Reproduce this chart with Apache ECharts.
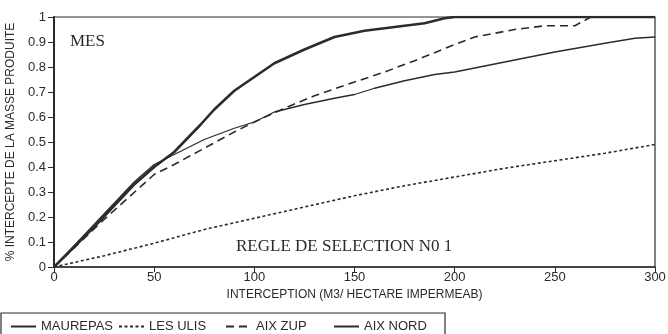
<!DOCTYPE html>
<html lang="fr">
<head>
    <meta charset="UTF-8">
    <title>MES - regle de selection N0 1</title>
    <style>
        html, body { margin: 0; padding: 0; background: #fff; }
        #main { width: 668px; height: 334px; }
    </style>
</head>
<body>
    <div id="main"></div>
    <script src="https://cdn.jsdelivr.net/npm/echarts@6/dist/echarts.min.js"></script>
    <script>
        // valeurs
        var maurepasX = [0, 20, 40, 50, 60, 75, 90, 100, 110, 125, 140, 150, 160, 175, 190, 200, 225, 250, 275, 290, 300];
        var maurepasY = [0, 0.17, 0.34, 0.41, 0.45, 0.51, 0.555, 0.58, 0.62, 0.65, 0.675, 0.69, 0.715, 0.745, 0.77, 0.78, 0.82, 0.86, 0.895, 0.915, 0.92];

        var lesUlisX = [0, 25, 50, 75, 100, 125, 150, 175, 200, 225, 250, 275, 300];
        var lesUlisY = [0, 0.045, 0.095, 0.15, 0.195, 0.24, 0.285, 0.325, 0.36, 0.395, 0.425, 0.455, 0.49];

        var aixZupX = [0, 25, 50, 60, 75, 90, 100, 115, 130, 150, 165, 180, 200, 210, 230, 245, 260, 268, 300];
        var aixZupY = [0, 0.19, 0.37, 0.41, 0.475, 0.54, 0.58, 0.635, 0.685, 0.74, 0.78, 0.825, 0.89, 0.92, 0.95, 0.965, 0.965, 1.0, 1.0];

        var aixNordX = [0, 20, 40, 50, 60, 73, 80, 90, 100, 110, 125, 140, 155, 170, 185, 195, 200, 300];
        var aixNordY = [0, 0.16, 0.33, 0.40, 0.46, 0.568, 0.63, 0.705, 0.76, 0.815, 0.87, 0.92, 0.945, 0.96, 0.975, 0.995, 1.0, 1.0];

        var names = ['MAUREPAS', 'LES ULIS', 'AIX ZUP', 'AIX NORD'];

        function pairs(xs, ys) {
            return xs.map(function (x, i) { return [x, ys[i]]; });
        }

        var ink = '#2b2b2b';
        var sans = '"Liberation Sans", Arial, sans-serif';
        var serif = '"Liberation Serif", "Times New Roman", serif';

        function line(name, xs, ys, width, type) {
            return {
                name: name,
                type: 'line',
                data: pairs(xs, ys),
                showSymbol: false,
                symbol: 'none',
                silent: true,
                animation: false,
                lineStyle: { color: ink, width: width, type: type },
                itemStyle: { color: ink }
            };
        }

        // une legende par entree pour garder les ecarts du modele
        function legendAt(name, left) {
            return {
                data: [name],
                left: left,
                top: 315,
                itemWidth: 25,
                itemHeight: 14,
                itemGap: 0,
                itemStyle: { opacity: 0 },   // pas de rond, juste le trait
                textStyle: { color: ink, fontSize: 13, fontFamily: sans },
                selectedMode: false
            };
        }

        var option = {
            backgroundColor: '#fff',
            animation: false,
            grid: {
                left: 54,
                right: 13,
                top: 17,
                bottom: 67,
                outerBoundsMode: 'none',
                show: true,
                borderColor: ink,
                borderWidth: 1.2
            },
            legend: [
                legendAt(names[0], 5),
                legendAt(names[1], 113),
                legendAt(names[2], 220),
                legendAt(names[3], 328)
            ],
            xAxis: {
                type: 'value',
                min: 0,
                max: 300,
                interval: 50,
                name: 'INTERCEPTION (M3/ HECTARE IMPERMEAB)',
                nameLocation: 'middle',
                nameGap: 20,
                nameTextStyle: { color: ink, fontSize: 12, fontFamily: sans },
                axisLine: { lineStyle: { color: ink, width: 1.5 } },
                axisTick: { show: true, length: 5, lineStyle: { color: ink } },
                axisLabel: { color: ink, fontSize: 13, fontFamily: sans, margin: 4 },
                splitLine: { show: false }
            },
            yAxis: {
                type: 'value',
                min: 0,
                max: 1,
                interval: 0.1,
                name: '% INTERCEPTE DE LA MASSE PRODUITE',
                nameLocation: 'middle',
                nameRotate: 90,
                nameGap: 31,
                nameTextStyle: { color: ink, fontSize: 12, fontFamily: sans },
                axisLine: { lineStyle: { color: ink, width: 2 } },
                axisTick: { show: true, length: 6, lineStyle: { color: ink } },
                axisLabel: { color: ink, fontSize: 13, fontFamily: sans, margin: 8 },
                splitLine: { show: false }
            },
            graphic: [
                {
                    type: 'text',
                    left: 70,
                    top: 33,
                    style: { text: 'MES', fill: ink, font: '17px ' + serif }
                },
                {
                    type: 'text',
                    left: 236,
                    top: 238,
                    style: { text: 'REGLE DE SELECTION N0 1', fill: ink, font: '17px ' + serif }
                },
                {
                    type: 'rect',
                    shape: { x: 1, y: 313, width: 444, height: 30 },
                    style: { fill: 'none', stroke: ink, lineWidth: 1.2 },
                    silent: true
                }
            ],
            series: [
                line(names[0], maurepasX, maurepasY, 1.3, 'solid'),
                line(names[1], lesUlisX, lesUlisY, 1.6, [3, 2.5]),
                line(names[2], aixZupX, aixZupY, 1.6, [8, 5]),
                line(names[3], aixNordX, aixNordY, 2.6, 'solid')
            ]
        };

        var myChart = echarts.init(document.getElementById('main'));
        myChart.setOption(option);
    </script>
</body>
</html>
